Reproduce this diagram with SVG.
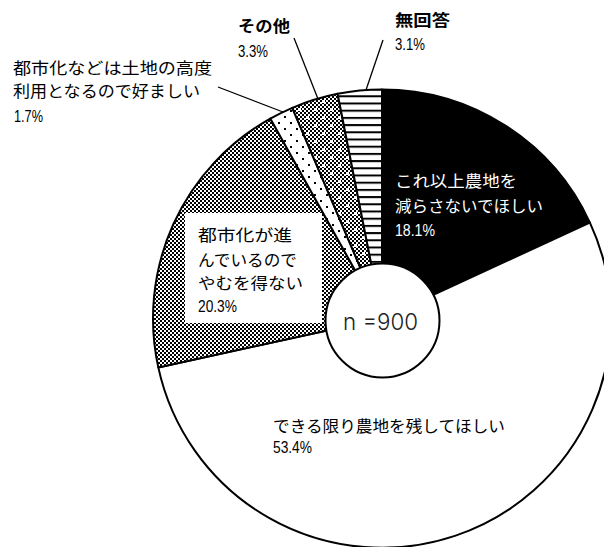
<svg xmlns="http://www.w3.org/2000/svg" width="604" height="547" viewBox="0 0 604 547">
<defs>
<pattern id="hlines" patternUnits="userSpaceOnUse" x="0" y="102.5" width="8" height="7.2">
<rect width="8" height="7.2" fill="#fff"/>
<rect width="8" height="2" fill="#000"/>
</pattern>
<pattern id="checker" patternUnits="userSpaceOnUse" width="4" height="4">
<rect width="4" height="4" fill="#fff"/>
<rect width="2" height="2" fill="#000"/>
<rect x="2" y="2" width="2" height="2" fill="#000"/>
</pattern>
<pattern id="checkdots" patternUnits="userSpaceOnUse" width="16" height="16">
<rect width="16" height="16" fill="#fff"/>
<path d="M0 0h2v2h-2zM4 0h2v2h-2zM8 0h2v2h-2zM12 0h2v2h-2zM2 2h2v2h-2zM6 2h2v2h-2zM10 2h2v2h-2zM14 2h2v2h-2zM0 4h2v2h-2zM4 4h2v2h-2zM8 4h2v2h-2zM12 4h2v2h-2zM2 6h2v2h-2zM6 6h2v2h-2zM10 6h2v2h-2zM14 6h2v2h-2zM0 8h2v2h-2zM4 8h2v2h-2zM8 8h2v2h-2zM12 8h2v2h-2zM2 10h2v2h-2zM6 10h2v2h-2zM10 10h2v2h-2zM14 10h2v2h-2zM0 12h2v2h-2zM4 12h2v2h-2zM8 12h2v2h-2zM12 12h2v2h-2zM2 14h2v2h-2zM6 14h2v2h-2zM10 14h2v2h-2zM14 14h2v2h-2z" fill="#000"/>
<rect x="2" y="4" width="3" height="3" fill="#fff"/>
<rect x="10" y="12" width="3" height="3" fill="#fff"/>
</pattern>
<pattern id="dots" patternUnits="userSpaceOnUse" width="12" height="12">
<rect width="12" height="12" fill="#fff"/>
<rect x="2" y="2" width="2" height="2" fill="#000"/>
<rect x="8" y="8" width="2" height="2" fill="#000"/>
</pattern>
</defs>
<style>
.sl{stroke:#000;stroke-width:2;stroke-linejoin:round}
.jp{font-family:"Noto Sans CJK JP","Noto Sans CJK SC",sans-serif;font-size:16px;fill:#000}
.num{font-family:"Liberation Sans",Arial,sans-serif;font-size:16px;fill:#000}
.w{fill:#fff}
.b{font-weight:bold}
.lead{stroke:#000;stroke-width:1.3;fill:none}
</style>
<g id="slices">
<g id="s-black"><path class="sl" fill="#000" d="M382 318.5L382 89.5A229 229 0 0 1 589.9 222.6Z"/></g>
<g id="s-white"><path class="sl" fill="#fff" d="M382 318.5L589.9 222.6A229 229 0 1 1 158.3 367.4Z"/></g>
<g id="s-check"><path class="sl" fill="url(#checker)" d="M382 318.5L158.3 367.4A229 229 0 0 1 270.3 118.6Z"/></g>
<g id="s-dots"><path class="sl" fill="url(#dots)" d="M382 318.5L270.3 118.6A229 229 0 0 1 292.3 107.8Z"/></g>
<g id="s-checkdots"><path class="sl" fill="url(#checkdots)" d="M382 318.5L292.3 107.8A229 229 0 0 1 337.6 93.8Z"/></g>
<g id="s-lines"><path class="sl" fill="url(#hlines)" d="M382 318.5L337.6 93.8A229 229 0 0 1 382 89.5Z"/></g>
</g>
<g id="connectors">
<line class="lead" x1="383" y1="40" x2="366" y2="90"/>
<line class="lead" x1="294" y1="38" x2="318" y2="99"/>
<line class="lead" x1="218" y1="87" x2="283" y2="112"/>
</g>
<g id="hole">
<circle cx="382.5" cy="320.5" r="57" fill="#fff" stroke="#000" stroke-width="2"/>
<text x="343" y="330" font-family="Inter,'Liberation Sans',sans-serif" font-weight="300" font-size="23" fill="#222" textLength="75" lengthAdjust="spacingAndGlyphs">n =900</text>
</g>
<g id="label-noanswer">
<text class="jp b" x="395" y="26" textLength="55" lengthAdjust="spacingAndGlyphs">無回答</text>
<text class="num" x="395" y="50" textLength="30" lengthAdjust="spacingAndGlyphs">3.1%</text>
</g>
<g id="label-other">
<text class="jp b" x="238" y="32" textLength="52" lengthAdjust="spacingAndGlyphs">その他</text>
<text class="num" x="238" y="57" textLength="30" lengthAdjust="spacingAndGlyphs">3.3%</text>
</g>
<g id="label-urban-good">
<text class="jp" x="13" y="74" textLength="199" lengthAdjust="spacingAndGlyphs">都市化などは土地の高度</text>
<text class="jp" x="13" y="97" textLength="187" lengthAdjust="spacingAndGlyphs">利用となるので好ましい</text>
<text class="num" x="14" y="122" textLength="29" lengthAdjust="spacingAndGlyphs">1.7%</text>
</g>
<g id="label-nomore">
<text class="jp w" x="395" y="187" textLength="122" lengthAdjust="spacingAndGlyphs">これ以上農地を</text>
<text class="jp w" x="395" y="212" textLength="148" lengthAdjust="spacingAndGlyphs">減らさないでほしい</text>
<text class="num w" x="395" y="236" textLength="40" lengthAdjust="spacingAndGlyphs">18.1%</text>
</g>
<g id="label-unavoidable">
<rect x="185" y="213" width="137" height="110" fill="#fff"/>
<text class="jp" x="198" y="241" textLength="94" lengthAdjust="spacingAndGlyphs">都市化が進</text>
<text class="jp" x="198" y="266" textLength="99" lengthAdjust="spacingAndGlyphs">んでいるので</text>
<text class="jp" x="198" y="289" textLength="105" lengthAdjust="spacingAndGlyphs">やむを得ない</text>
<text class="num" x="198" y="312" textLength="39" lengthAdjust="spacingAndGlyphs">20.3%</text>
</g>
<g id="label-keep">
<text class="jp" x="273" y="432" textLength="232" lengthAdjust="spacingAndGlyphs">できる限り農地を残してほしい</text>
<text class="num" x="273" y="453" textLength="39" lengthAdjust="spacingAndGlyphs">53.4%</text>
</g>
</svg>
